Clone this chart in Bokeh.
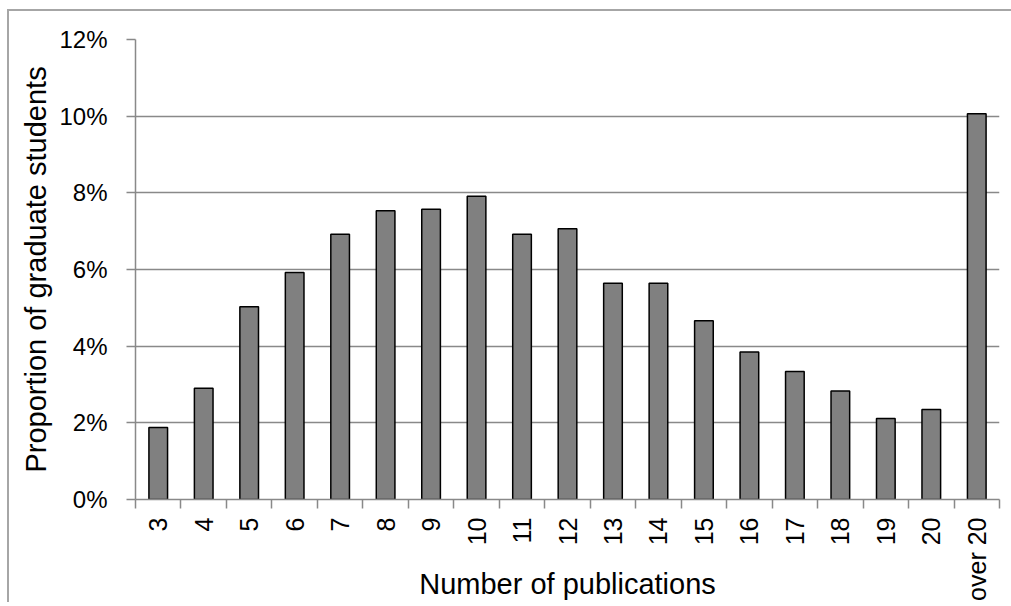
import math
from bokeh.plotting import figure
from bokeh.models import Range1d, FixedTicker, NumeralTickFormatter, ColumnDataSource
from bokeh.embed import file_html
from bokeh.resources import INLINE

# ---- data ----
categories = ["3", "4", "5", "6", "7", "8", "9", "10", "11", "12", "13", "14",
              "15", "16", "17", "18", "19", "20", "over 20"]
proportions_pct = [1.88, 2.90, 5.03, 5.92, 6.92, 7.53, 7.57, 7.91, 6.92, 7.06,
                   5.64, 5.64, 4.66, 3.85, 3.34, 2.83, 2.11, 2.35, 10.06]
y_ticks_pct = [0, 2, 4, 6, 8, 10, 12]
x_title = "Number of publications"
y_title = "Proportion of graduate students"

FONT = "Liberation Sans"
GRAY = "#898989"

n = len(categories)
centers = list(range(n))
boundaries = [i - 0.5 for i in range(n + 1)]

src = ColumnDataSource(dict(x=centers, top=[v / 100 for v in proportions_pct], label=categories))

p = figure(width=None, height=None, frame_width=864, frame_height=460,
           output_backend="svg", toolbar_location=None,
           x_range=Range1d(-0.5, n - 0.5), y_range=Range1d(0, y_ticks_pct[-1] / 100),
           min_border_left=126, min_border_right=12, min_border_top=28, min_border_bottom=60)
p.styles = {"margin-left": "7px", "margin-top": "9px",
            "border-left": "2px solid #a6a6a6", "border-top": "2px solid #a6a6a6"}
p.outline_line_color = None
p.background_fill_color = "white"
p.border_fill_color = "white"

# grid
p.xgrid.visible = False
p.ygrid.ticker = FixedTicker(ticks=[t / 100 for t in y_ticks_pct])
p.ygrid.grid_line_color = GRAY
p.ygrid.grid_line_width = 1.5

# bars
p.vbar(x="x", top="top", width=0.41, source=src, fill_color="#808080",
       line_color="black", line_width=1.5)

# y axis
ya = p.yaxis[0]
ya.ticker = FixedTicker(ticks=[t / 100 for t in y_ticks_pct])
ya.formatter = NumeralTickFormatter(format="0%")
ya.axis_line_color = GRAY
ya.axis_line_width = 1.5
ya.major_tick_line_color = GRAY
ya.major_tick_line_width = 1.5
ya.major_tick_out = 9
ya.major_tick_in = 0
ya.minor_tick_line_color = None
ya.major_label_text_font = FONT
ya.major_label_text_font_size = "24px"
ya.major_label_text_color = "black"
ya.major_label_standoff = 19
ya.axis_label = y_title
ya.axis_label_text_font = FONT
ya.axis_label_text_font_size = "29px"
ya.axis_label_text_font_style = "normal"
ya.axis_label_text_color = "black"
ya.axis_label_standoff = 4

# x axis
xa = p.xaxis[0]
xa.ticker = FixedTicker(ticks=centers, minor_ticks=boundaries)
xa.major_label_overrides = {i: c for i, c in zip(centers, categories)}
xa.major_label_orientation = math.pi / 2
xa.axis_line_color = GRAY
xa.axis_line_width = 1.5
xa.major_tick_line_color = None
xa.major_tick_out = 0
xa.major_tick_in = 0
xa.minor_tick_line_color = GRAY
xa.minor_tick_line_width = 1.5
xa.minor_tick_out = 9
xa.minor_tick_in = 0
xa.major_label_text_font = FONT
xa.major_label_text_font_size = "25px"
xa.major_label_text_color = "black"
xa.major_label_standoff = 9
xa.axis_label = x_title
xa.axis_label_text_font = FONT
xa.axis_label_text_font_size = "29px"
xa.axis_label_text_font_style = "normal"
xa.axis_label_text_color = "black"
xa.axis_label_text_line_height = 0.8
xa.axis_label_standoff = -36

open("out.html", "w").write(file_html(p, INLINE))
